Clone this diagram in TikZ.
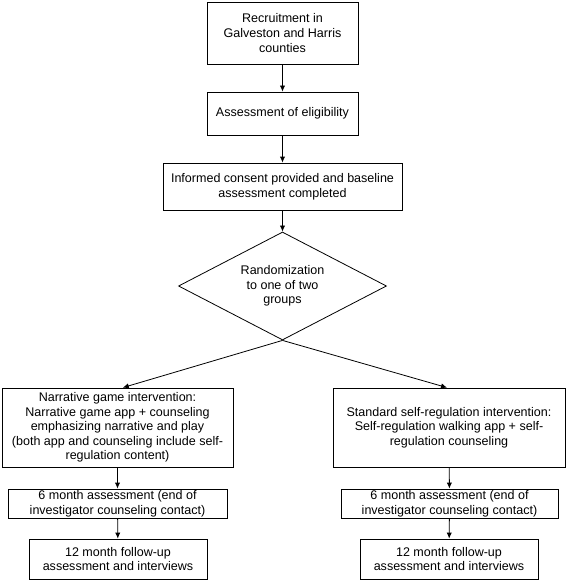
\documentclass[tikz,border=0pt]{standalone}
\usepackage{fontspec}
\setmainfont{Liberation Sans}
\usetikzlibrary{shapes.geometric,arrows.meta}
\tikzset{
  stagebox/.style={draw, rectangle, align=center, inner sep=0pt, line width=0.6pt,
    font=\fontsize{9.4}{10.9}\selectfont},
  choice/.style={draw, diamond, aspect=2, align=center, inner sep=0pt, line width=0.6pt,
    font=\fontsize{9.4}{10.9}\selectfont},
  flow/.style={-{Latex[length=4.5pt,width=4pt]}, line width=0.6pt}
}
\begin{document}
\begin{tikzpicture}[x=0.75pt,y=-0.75pt]
            \useasboundingbox (0,0) rectangle (567,581);
            \node[stagebox, minimum width=113.25pt, minimum height=46.5pt] (recruit) at (282.5,33) {Recruitment in\\Galveston and Harris\\counties};
            \node[stagebox, minimum width=113.25pt, minimum height=32.25pt] (elig) at (282.5,113.5) {Assessment of eligibility};
            \node[stagebox, minimum width=179.25pt, minimum height=35.25pt] (consent) at (282.5,186.5) {Informed consent provided and baseline\\assessment completed};
            \node[choice, minimum width=156pt, minimum height=81pt] (random) at (282.5,286) {Randomization\\to one of two\\groups};
            \node[stagebox, minimum width=173.25pt, minimum height=59.25pt] (game) at (117.5,427.5) {Narrative game intervention:\\Narrative game app + counseling\\emphasizing narrative and play\\(both app and counseling include self-\\regulation content)};
            \node[stagebox, minimum width=174pt, minimum height=59.25pt] (std) at (449,427.5) {Standard self-regulation intervention:\\Self-regulation walking app + self-\\regulation counseling};
            \node[stagebox, minimum width=164.25pt, minimum height=21.75pt] (gamesix) at (117.5,503.5) {6 month assessment (end of\\investigator counseling contact)};
            \node[stagebox, minimum width=162.75pt, minimum height=21.75pt] (stdsix) at (449.5,503.5) {6 month assessment (end of\\investigator counseling contact)};
            \node[stagebox, minimum width=133.5pt, minimum height=30pt] (gametwelve) at (118,559) {12 month follow-up\\assessment and interviews};
            \node[stagebox, minimum width=133.5pt, minimum height=30pt] (stdtwelve) at (449,559) {12 month follow-up\\assessment and interviews};
            \draw[flow] (recruit) -- (elig);
            \draw[flow] (elig) -- (consent);
            \draw[flow] (consent) -- (random);
            \draw[flow] (random.south) -- ([xshift=4pt]game.north);
            \draw[flow] (random.south) -- ([xshift=-1.5pt]std.north);
            \draw[flow] (game) -- (gamesix);
            \draw[flow] (std) -- (stdsix);
            \draw[flow] (gamesix) -- (gametwelve);
            \draw[flow] (stdsix) -- (stdtwelve);
        \end{tikzpicture}
\end{document}
